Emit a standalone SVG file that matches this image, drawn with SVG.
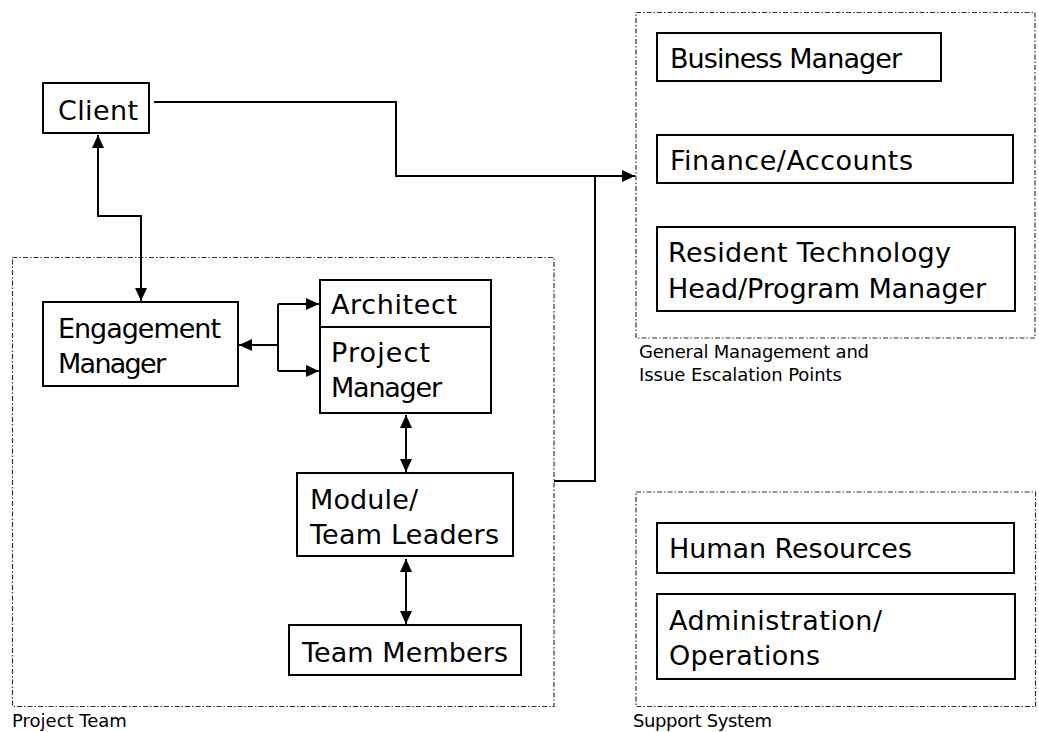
<svg xmlns="http://www.w3.org/2000/svg" width="1039" height="732" viewBox="0 0 1039 732">
<style>
.box{fill:#fff;stroke:#000;stroke-width:2}
.grp{fill:none;stroke:#333;stroke-width:1.2;stroke-dasharray:5 2 1.5 2}
.t{font-family:"DejaVu Sans",Verdana,sans-serif;font-size:27px;fill:#000}
.lb{font-family:"DejaVu Sans",Verdana,sans-serif;font-size:18px;fill:#000}
.c{fill:none;stroke:#000;stroke-width:2}
</style>
<defs>
<marker id="ah" markerUnits="userSpaceOnUse" markerWidth="14" markerHeight="12" refX="13" refY="6" orient="auto-start-reverse">
<path d="M0,0 L13,6 L0,12 Z" fill="#000"/>
</marker>
</defs>
<rect width="1039" height="732" fill="#fff"/>

<g id="groups">
<g id="project-team-group">
<rect class="grp" x="12.5" y="257.5" width="541.5" height="449"/>
<text class="lb" x="12" y="727">Project Team</text>
</g>
<g id="general-management-group">
<rect class="grp" x="636" y="12.5" width="399" height="325.5"/>
<text class="lb" x="639" y="358" textLength="230" lengthAdjust="spacing">General Management and</text>
<text class="lb" x="639" y="381" textLength="203" lengthAdjust="spacing">Issue Escalation Points</text>
</g>
<g id="support-system-group">
<rect class="grp" x="636" y="492" width="399.5" height="214.5"/>
<text class="lb" x="633" y="727" textLength="139" lengthAdjust="spacing">Support System</text>
</g>
</g>

<g id="connectors">
<path class="c" d="M154,102 H396 V176 H635" marker-end="url(#ah)"/>
<path class="c" d="M554,481 H595 V176"/>
<path class="c" d="M141,301 V216 H98 V135" marker-start="url(#ah)" marker-end="url(#ah)"/>
<path class="c" d="M278,345 H239" marker-end="url(#ah)"/>
<path class="c" d="M278,304 V371"/>
<path class="c" d="M278,304 H319" marker-end="url(#ah)"/>
<path class="c" d="M278,371 H319" marker-end="url(#ah)"/>
<path class="c" d="M406,415 V472" marker-start="url(#ah)" marker-end="url(#ah)"/>
<path class="c" d="M406,559 V624" marker-start="url(#ah)" marker-end="url(#ah)"/>
</g>

<g id="client">
<rect class="box" x="43" y="83" width="106" height="50"/>
<text class="t" x="58" y="120" textLength="80" lengthAdjust="spacing">Client</text>
</g>
<g id="engagement-manager">
<rect class="box" x="43" y="302" width="195" height="84"/>
<text class="t" x="58" y="338" textLength="163" lengthAdjust="spacing">Engagement</text>
<text class="t" x="58" y="373" textLength="108" lengthAdjust="spacing">Manager</text>
</g>
<g id="architect-project-manager">
<rect class="box" x="320" y="280" width="171" height="133"/>
<line x1="320" y1="327" x2="491" y2="327" stroke="#000" stroke-width="2"/>
<text class="t" x="331" y="314" textLength="126" lengthAdjust="spacing">Architect</text>
<text class="t" x="331" y="362" textLength="99" lengthAdjust="spacing">Project</text>
<text class="t" x="331" y="397" textLength="111" lengthAdjust="spacing">Manager</text>
</g>
<g id="module-team-leaders">
<rect class="box" x="297" y="473" width="216" height="83"/>
<text class="t" x="310" y="509" textLength="108" lengthAdjust="spacing">Module/</text>
<text class="t" x="310" y="544" textLength="189" lengthAdjust="spacing">Team Leaders</text>
</g>
<g id="team-members">
<rect class="box" x="289" y="625" width="232" height="50"/>
<text class="t" x="302" y="662" textLength="206" lengthAdjust="spacing">Team Members</text>
</g>
<g id="business-manager">
<rect class="box" x="657" y="33" width="284" height="48"/>
<text class="t" x="670" y="68" textLength="232" lengthAdjust="spacing">Business Manager</text>
</g>
<g id="finance-accounts">
<rect class="box" x="657" y="135" width="356" height="48"/>
<text class="t" x="670" y="170" textLength="243" lengthAdjust="spacing">Finance/Accounts</text>
</g>
<g id="resident-technology-head">
<rect class="box" x="657" y="227" width="358" height="84"/>
<text class="t" x="668" y="262" textLength="283" lengthAdjust="spacing">Resident Technology</text>
<text class="t" x="668" y="298" textLength="318" lengthAdjust="spacing">Head/Program Manager</text>
</g>
<g id="human-resources">
<rect class="box" x="657" y="523" width="357" height="50"/>
<text class="t" x="669" y="558" textLength="243" lengthAdjust="spacing">Human Resources</text>
</g>
<g id="administration-operations">
<rect class="box" x="657" y="594" width="358" height="85"/>
<text class="t" x="669" y="630" textLength="213" lengthAdjust="spacing">Administration/</text>
<text class="t" x="669" y="665" textLength="151" lengthAdjust="spacing">Operations</text>
</g>
</svg>
